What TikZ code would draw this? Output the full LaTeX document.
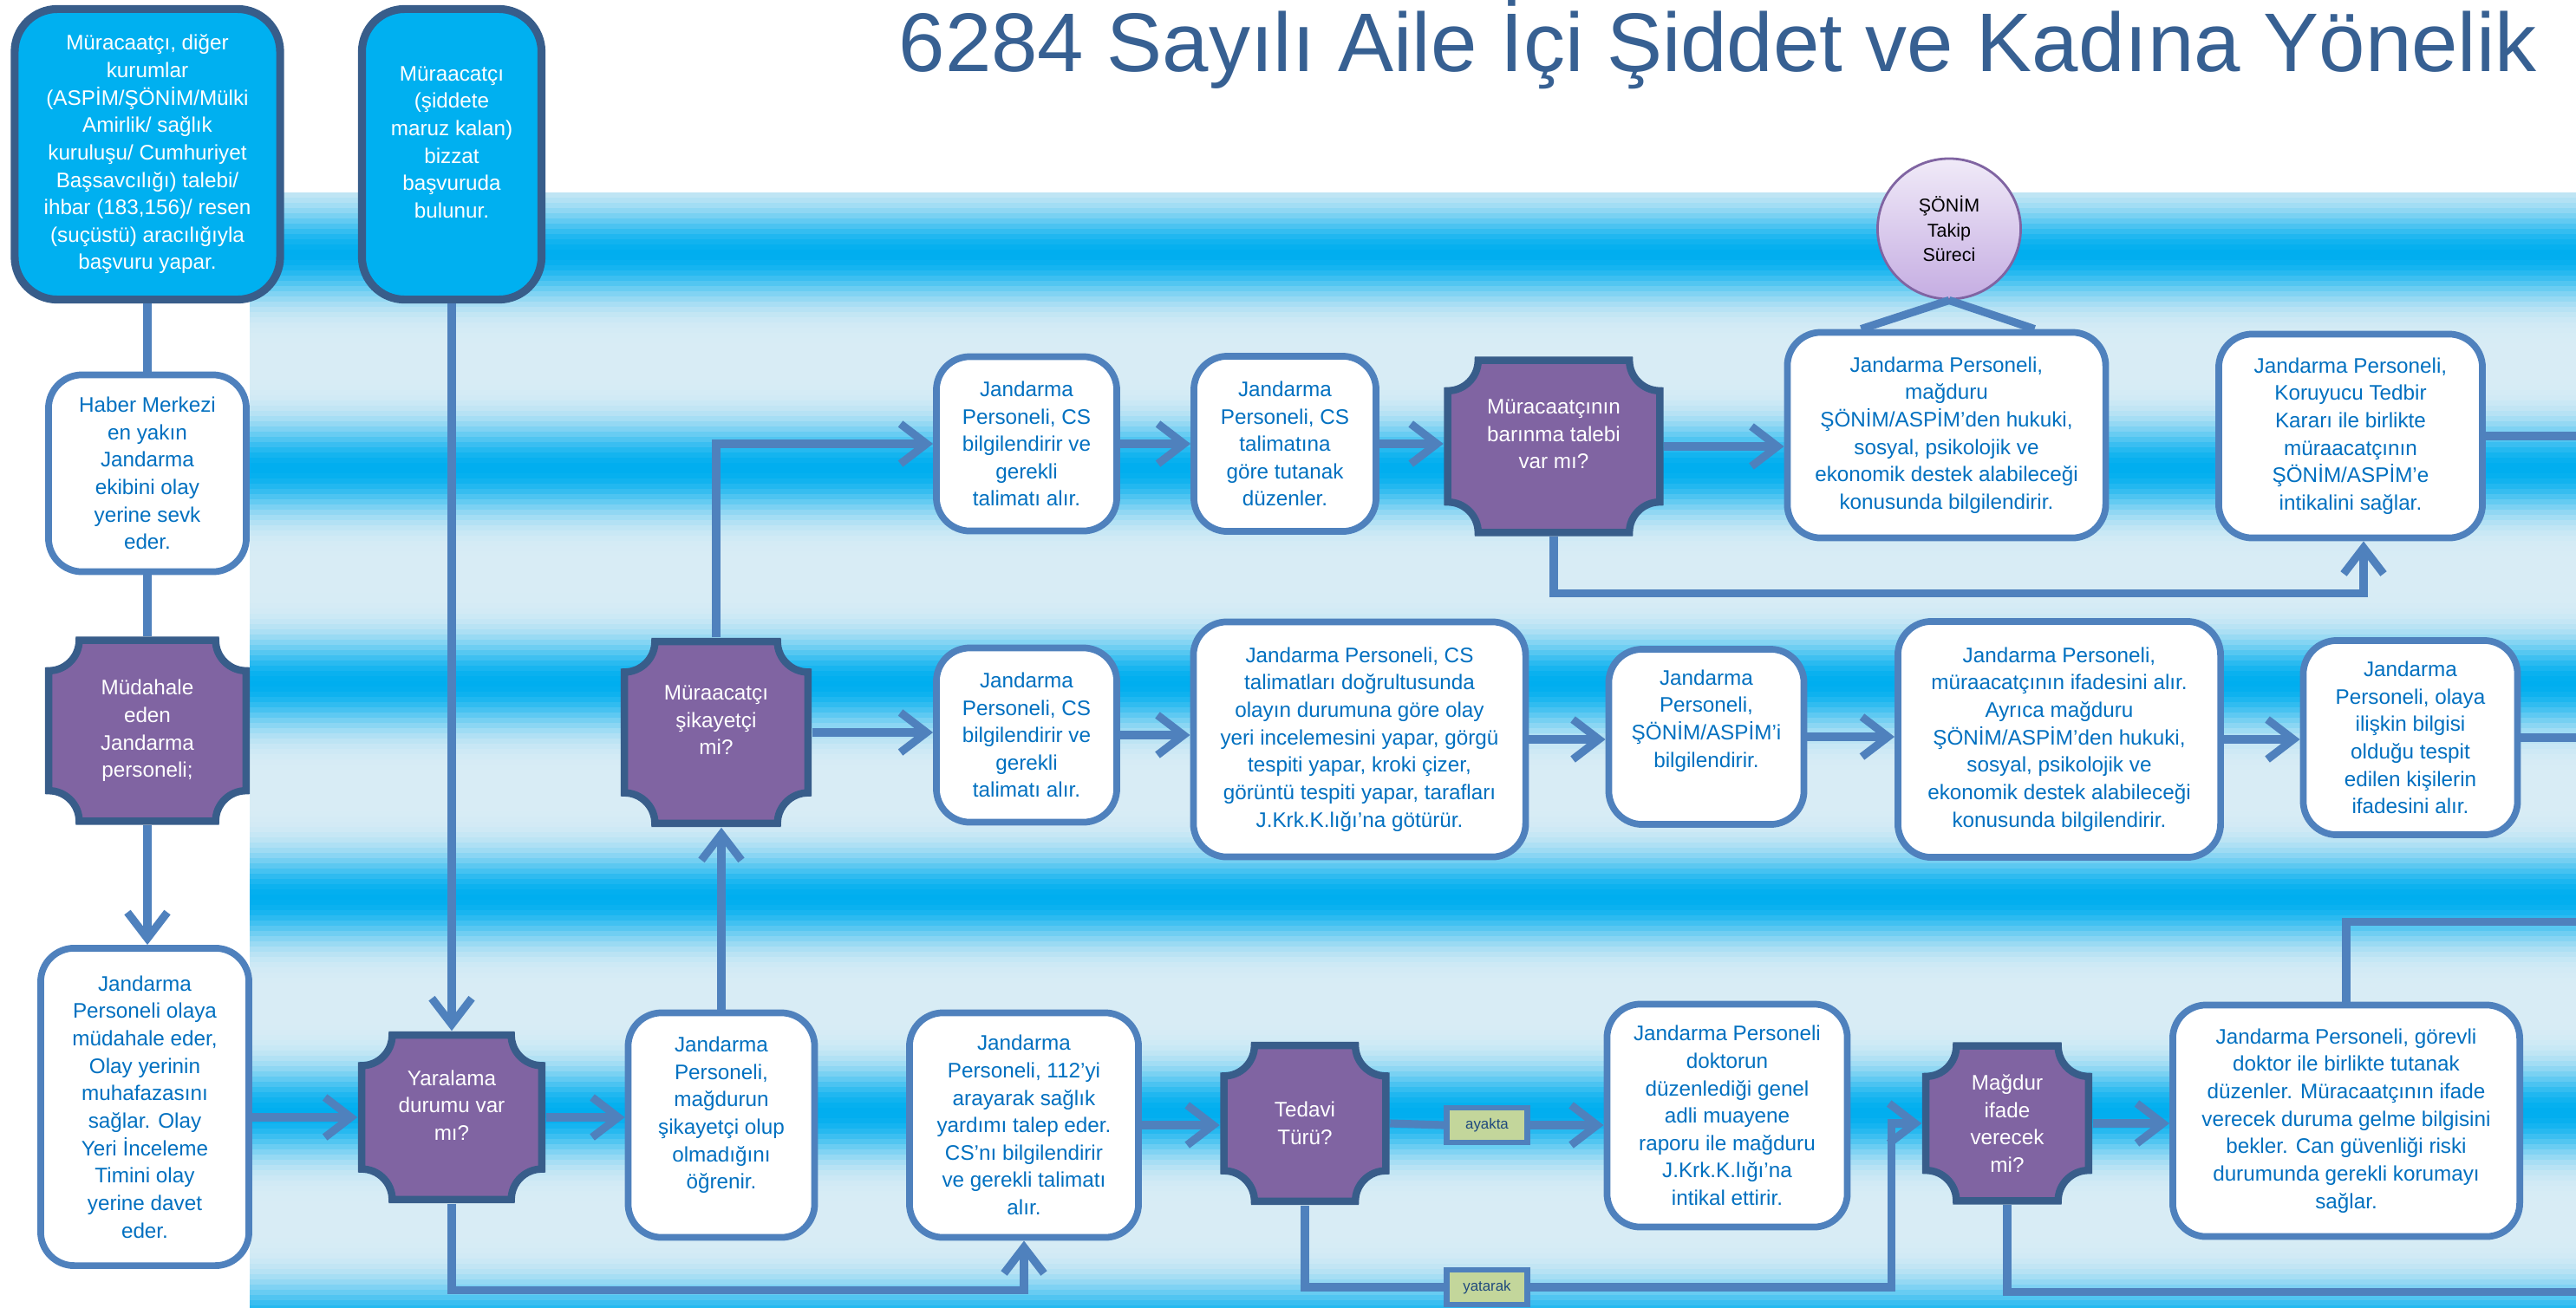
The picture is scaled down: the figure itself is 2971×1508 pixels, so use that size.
\documentclass[tikz,border=0pt]{standalone}
\usepackage{fontspec}
\setmainfont{Liberation Sans}
\usetikzlibrary{arrows.meta,calc,shapes.geometric}

\definecolor{bandcyan}{HTML}{00AEEF}
\definecolor{bandlight}{HTML}{D8ECF5}
\definecolor{titleblue}{HTML}{376092}
\definecolor{startcyan}{HTML}{00B0F0}
\definecolor{startline}{HTML}{385D8A}
\definecolor{boxline}{HTML}{4F81BD}
\definecolor{boxtext}{HTML}{0070C0}
\definecolor{plaquefill}{HTML}{8064A2}
\definecolor{plaqueline}{HTML}{385D8A}
\definecolor{tagfill}{HTML}{C3D69B}
\definecolor{tagtext}{HTML}{1F497D}
\definecolor{sonimtop}{HTML}{F0EAF8}
\definecolor{sonimbot}{HTML}{C5ADE2}

\tikzset{
  wire/.style={draw=boxline, line width=2.6pt},
  flow/.style={wire, -{Straight Barb[length=3mm,width=4.6mm]}},
  actbox/.style={draw=boxline, fill=white, line width=2.2pt, rounded corners=11pt,
    text=boxtext, align=center, inner sep=2pt, font=\fontsize{6.9}{9}\selectfont},
  startbox/.style={actbox, draw=startline, fill=startcyan, text=white, line width=2.6pt,
    rounded corners=14pt},
  decision/.style={rectangle, align=center, text=white, inner sep=2pt,
    font=\fontsize{6.9}{9}\selectfont,
    path picture={
      \draw[draw=plaqueline, fill=plaquefill, line width=2.4pt]
        let \p1=(path picture bounding box.north west),
            \p2=(path picture bounding box.south east) in
        ({\x1+11.2pt},{\y1-1.2pt}) -- ({\x2-11.2pt},{\y1-1.2pt})
        .. controls ({\x2-11.2pt},{\y1-6.7pt}) and ({\x2-6.7pt},{\y1-11.2pt}) .. ({\x2-1.2pt},{\y1-11.2pt})
        -- ({\x2-1.2pt},{\y2+11.2pt})
        .. controls ({\x2-6.7pt},{\y2+11.2pt}) and ({\x2-11.2pt},{\y2+6.7pt}) .. ({\x2-11.2pt},{\y2+1.2pt})
        -- ({\x1+11.2pt},{\y2+1.2pt})
        .. controls ({\x1+11.2pt},{\y2+6.7pt}) and ({\x1+6.7pt},{\y2+11.2pt}) .. ({\x1+1.2pt},{\y2+11.2pt})
        -- ({\x1+1.2pt},{\y1-11.2pt})
        .. controls ({\x1+6.7pt},{\y1-11.2pt}) and ({\x1+11.2pt},{\y1-6.7pt}) .. cycle;
    }},
  sonim/.style={ellipse, draw=plaquefill, line width=0.8pt, top color=sonimtop,
    bottom color=sonimbot, align=center, inner sep=0pt, font=\fontsize{6.1}{8.1}\selectfont},
  pathtag/.style={draw=boxline, fill=tagfill, line width=1.8pt, text=tagtext,
    inner sep=0pt, font=\fontsize{4.8}{6}\selectfont},
  headline/.style={text=titleblue, inner sep=0pt, font=\fontsize{27.3}{33}\selectfont}
}

\begin{document}
\begin{tikzpicture}[x=0.01cm,y=-0.01cm]
  \useasboundingbox (0,0) rectangle (2971,1508);
  \clip (0,0) rectangle (2971,1508);
  \fill[white] (0,0) rectangle (2971,1508);
  % banded background
  \foreach \yy in {222,228,...,1506}{
    \pgfmathsetmacro\mix{100*((1+cos(((\yy-290)/247.5)*360))/2)^2.5}
    \fill[bandcyan!\mix!bandlight] (288,\yy) rectangle (2971,\yy+6.5);
  }
  \coordinate (rim) at (2971,0);

  \node[headline, anchor=base west] (title) at (1036,82) {6284 Sayılı Aile İçi Şiddet ve Kadına Yönelik};

  % first column
  \node[startbox, minimum width=3.06cm, minimum height=3.35cm] (apply) at (170,178)
    {Müracaatçı, diğer\\kurumlar\\(ASPİM/ŞÖNİM/Mülki\\Amirlik/ sağlık\\kuruluşu/ Cumhuriyet\\Başsavcılığı) talebi/\\ihbar (183,156)/ resen\\(suçüstü) aracılığıyla\\başvuru yapar.};
  \node[startbox, minimum width=2.07cm, minimum height=3.35cm] (self) at (521,178)
    {Müraacatçı\\(şiddete\\maruz kalan)\\bizzat\\başvuruda\\bulunur.\\[-1pt]};
  \node[actbox, minimum width=2.28cm, minimum height=2.27cm] (hq) at (170,546)
    {Haber Merkezi\\en yakın\\Jandarma\\ekibini olay\\yerine sevk\\eder.};
  \node[decision, minimum width=2.36cm, minimum height=2.17cm] (resp) at (170,843)
    {Müdahale\\eden\\Jandarma\\personeli;};
  \node[actbox, minimum width=2.40cm, minimum height=3.66cm] (scene) at (167,1277)
    {Jandarma\\Personeli olaya\\müdahale eder,\\Olay yerinin\\muhafazasını\\sağlar. Olay\\Yeri İnceleme\\Timini olay\\yerine davet\\eder.};

  % injury branch
  \node[decision, minimum width=2.16cm, minimum height=1.98cm] (injury) at (521,1289)
    {Yaralama\\durumu var\\mı?\\[-1pt]};
  \node[actbox, minimum width=2.15cm, minimum height=2.59cm] (ask) at (832,1298)
    {Jandarma\\Personeli,\\mağdurun\\şikayetçi olup\\olmadığını\\öğrenir.\\[-1pt]};
  \node[decision, minimum width=2.20cm, minimum height=2.18cm] (complaint) at (826,845)
    {Müraacatçı\\şikayetçi\\mi?\\[-1pt]};
  \node[actbox, minimum width=2.64cm, minimum height=2.59cm] (ambulance) at (1181,1298)
    {Jandarma\\Personeli, 112’yi\\arayarak sağlık\\yardımı talep eder.\\CS’nı bilgilendirir\\ve gerekli talimatı\\alır.};
  \node[decision, minimum width=1.95cm, minimum height=1.88cm] (treat) at (1505,1296)
    {Tedavi\\Türü?};
  \node[pathtag, minimum width=0.93cm, minimum height=0.40cm] (standing) at (1715,1298) {ayakta};
  \node[pathtag, minimum width=0.93cm, minimum height=0.40cm] (lying) at (1715,1485) {yatarak};
  \node[actbox, minimum width=2.77cm, minimum height=2.57cm] (report) at (1992,1287)
    {Jandarma Personeli\\doktorun\\düzenlediği genel\\adli muayene\\raporu ile mağduru\\J.Krk.K.lığı’na\\intikal ettirir.};
  \node[decision, minimum width=1.96cm, minimum height=1.87cm] (testimony) at (2315,1296)
    {Mağdur\\ifade\\verecek\\mi?};
  \node[actbox, minimum width=4.00cm, minimum height=2.67cm] (wait) at (2706,1293)
    {Jandarma Personeli, görevli\\doktor ile birlikte tutanak\\düzenler. Müracaatçının ifade\\verecek duruma gelme bilgisini\\bekler. Can güvenliği riski\\durumunda gerekli korumayı\\sağlar.};

  % shelter row
  \node[actbox, minimum width=2.08cm, minimum height=2.01cm] (infoCS) at (1184,512)
    {Jandarma\\Personeli, CS\\bilgilendirir ve\\gerekli\\talimatı alır.};
  \node[actbox, minimum width=2.10cm, minimum height=2.02cm] (record) at (1482,512)
    {Jandarma\\Personeli, CS\\talimatına\\göre tutanak\\düzenler.};
  \node[decision, minimum width=2.53cm, minimum height=2.07cm] (shelter) at (1792,515)
    {Müracaatçının\\barınma talebi\\var mı?\\[-1pt]};
  \node[actbox, minimum width=3.67cm, minimum height=2.37cm] (support) at (2245,502)
    {Jandarma Personeli,\\mağduru\\ŞÖNİM/ASPİM’den hukuki,\\sosyal, psikolojik ve\\ekonomik destek alabileceği\\konusunda bilgilendirir.};
  \node[sonim, minimum width=1.65cm, minimum height=1.62cm] (follow) at (2248,264)
    {ŞÖNİM\\Takip\\Süreci};
  \node[actbox, minimum width=3.04cm, minimum height=2.35cm] (transfer) at (2711,503)
    {Jandarma Personeli,\\Koruyucu Tedbir\\Kararı ile birlikte\\müraacatçının\\ŞÖNİM/ASPİM’e\\intikalini sağlar.};

  % complaint row
  \node[actbox, minimum width=2.08cm, minimum height=2.01cm] (infoCS2) at (1184,848)
    {Jandarma\\Personeli, CS\\bilgilendirir ve\\gerekli\\talimatı alır.};
  \node[actbox, minimum width=3.83cm, minimum height=2.71cm] (inspect) at (1568,853)
    {Jandarma Personeli, CS\\talimatları doğrultusunda\\olayın durumuna göre olay\\yeri incelemesini yapar, görgü\\tespiti yapar, kroki çizer,\\görüntü tespiti yapar, tarafları\\J.Krk.K.lığı’na götürür.};
  \node[actbox, minimum width=2.25cm, minimum height=2.02cm] (notify) at (1968,850)
    {Jandarma\\Personeli,\\ŞÖNİM/ASPİM’i\\bilgilendirir.\\[3pt]};
  \node[actbox, minimum width=3.72cm, minimum height=2.72cm] (statement) at (2375,853)
    {Jandarma Personeli,\\müraacatçının ifadesini alır.\\Ayrıca mağduru\\ŞÖNİM/ASPİM’den hukuki,\\sosyal, psikolojik ve\\ekonomik destek alabileceği\\konusunda bilgilendirir.};
  \node[actbox, minimum width=2.47cm, minimum height=2.24cm] (witness) at (2780,851)
    {Jandarma\\Personeli, olaya\\ilişkin bilgisi\\olduğu tespit\\edilen kişilerin\\ifadesini alır.};

  % connectors
  \draw[wire] (apply.south) -- (hq.north);
  \draw[wire] (hq.south) -- (resp.north);
  \draw[flow] (resp.south) -- (scene.north -| resp.south);
  \draw[flow] (injury.west -| scene.east) -- (injury.west);
  \draw[flow] (self.south) -- (injury.north);
  \draw[flow] (injury.east) -- (injury.east -| ask.west);
  \draw[flow] (ask.north) -- (ask.north |- complaint.south);
  \draw[flow] (complaint.east) -- (complaint.east -| infoCS2.west);
  \draw[flow] (complaint.north) |- (infoCS.west);
  \draw[flow] (infoCS.east) -- (infoCS.east -| record.west);
  \draw[flow] (record.east) -- (record.east -| shelter.west);
  \draw[flow] (shelter.east) -- (shelter.east -| support.west);
  \draw[flow] (shelter.south) -- ++(0,65) -| ($(transfer.south)+(15,0)$);
  \draw[wire] (follow.south) -- ($(support.north west)+(89,0)$);
  \draw[wire] (follow.south) -- ($(support.north east)+(-86,0)$);
  \draw[wire] (transfer.east) -- (transfer.east -| rim);
  \draw[flow] (infoCS2.east) -- (infoCS2.east -| inspect.west);
  \draw[flow] (inspect.east) -- (inspect.east -| notify.west);
  \draw[flow] (notify.east) -- (notify.east -| statement.west);
  \draw[flow] (statement.east) -- (statement.east -| witness.west);
  \draw[wire] (witness.east) -- (witness.east -| rim);
  \draw[flow] (injury.south) -- ++(0,100) -| (ambulance.south);
  \draw[flow] (ambulance.east) -- (ambulance.east -| treat.west);
  \draw[wire] (treat.east) -- (standing.west);
  \draw[flow] (standing.east) -- (standing.east -| report.west);
  \draw[wire] (treat.south) |- (lying.west);
  \draw[flow] (lying.east) -| ($(testimony.west)+(-35,0)$) -- (testimony.west);
  \draw[flow] (testimony.east) -- (testimony.east -| wait.west);
  \draw[wire] (wait.north) -- ++(0,-92) -- ++(300,0);
  \draw[wire] (testimony.south) -- ++(0,100) -- ++(700,0);
\end{tikzpicture}
\end{document}
